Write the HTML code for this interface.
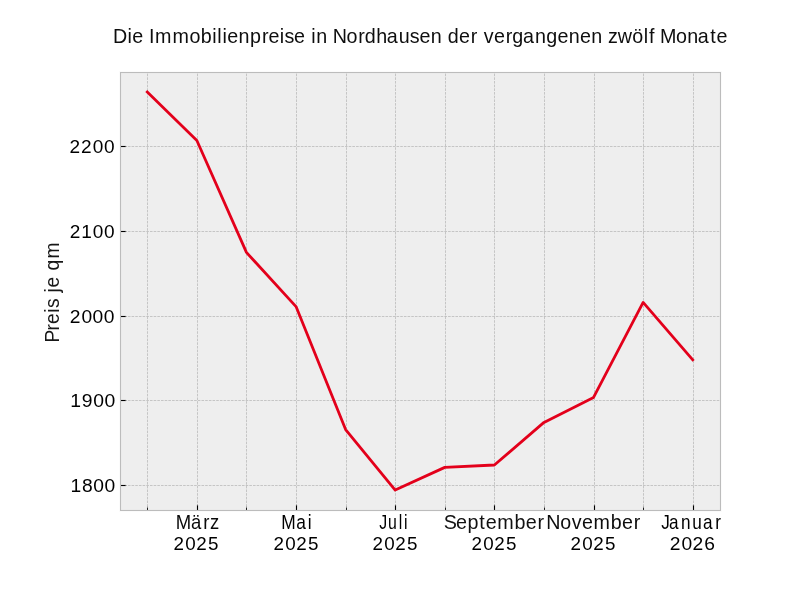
<!DOCTYPE html>
    <html><head><meta charset="utf-8"><style>html,body{margin:0;padding:0;background:#fff;width:800px;height:600px;overflow:hidden}svg{display:block;will-change:transform}text{font-family:"Liberation Sans",sans-serif}</style></head>
    <body><svg width="800" height="600" viewBox="0 0 800 600">
    <rect width="800" height="600" fill="#fff"/>
    <rect x="120" y="72" width="600" height="438" fill="#eeeeee"/>
<path d="M147.5 510V72 M197.5 510V72 M246.5 510V72 M296.5 510V72 M346.5 510V72 M395.5 510V72 M445.5 510V72 M494.5 510V72 M544.5 510V72 M594.5 510V72 M643.5 510V72 M693.5 510V72" stroke="#b2b2b2" stroke-width="0.694" stroke-dasharray="2.57 1.11" stroke-dashoffset="0.45" fill="none"/>
<path d="M120 146.5H720 M120 231.5H720 M120 316.5H720 M120 400.5H720 M120 485.5H720" stroke="#b2b2b2" stroke-width="0.694" stroke-dasharray="2.57 1.11" stroke-dashoffset="-0.55" fill="none"/>
<polyline points="147.273,91.909 196.860,140.495 246.446,252.420 296.033,306.602 345.620,429.550 395.207,490.091 444.793,467.367 494.380,464.993 543.967,422.427 593.554,397.414 643.140,302.362 692.727,359.851" fill="none" stroke="#e3001b" stroke-width="2.78" stroke-linejoin="round" stroke-linecap="square"/>
<g shape-rendering="crispEdges"><rect x="121" y="146" width="4" height="1" fill="#000"/><rect x="125" y="146" width="1" height="1" fill="#000" fill-opacity="0.59"/><rect x="126" y="146" width="1" height="1" fill="#000" fill-opacity="0.13"/><rect x="121" y="145" width="5" height="1" fill="#000" fill-opacity="0.06"/><rect x="121" y="147" width="5" height="1" fill="#000" fill-opacity="0.06"/><rect x="121" y="231" width="4" height="1" fill="#000"/><rect x="125" y="231" width="1" height="1" fill="#000" fill-opacity="0.59"/><rect x="126" y="231" width="1" height="1" fill="#000" fill-opacity="0.13"/><rect x="121" y="230" width="5" height="1" fill="#000" fill-opacity="0.06"/><rect x="121" y="232" width="5" height="1" fill="#000" fill-opacity="0.06"/><rect x="121" y="316" width="4" height="1" fill="#000"/><rect x="125" y="316" width="1" height="1" fill="#000" fill-opacity="0.59"/><rect x="126" y="316" width="1" height="1" fill="#000" fill-opacity="0.13"/><rect x="121" y="315" width="5" height="1" fill="#000" fill-opacity="0.06"/><rect x="121" y="317" width="5" height="1" fill="#000" fill-opacity="0.06"/><rect x="121" y="400" width="4" height="1" fill="#000"/><rect x="125" y="400" width="1" height="1" fill="#000" fill-opacity="0.59"/><rect x="126" y="400" width="1" height="1" fill="#000" fill-opacity="0.13"/><rect x="121" y="399" width="5" height="1" fill="#000" fill-opacity="0.06"/><rect x="121" y="401" width="5" height="1" fill="#000" fill-opacity="0.06"/><rect x="121" y="485" width="4" height="1" fill="#000"/><rect x="125" y="485" width="1" height="1" fill="#000" fill-opacity="0.59"/><rect x="126" y="485" width="1" height="1" fill="#000" fill-opacity="0.13"/><rect x="121" y="484" width="5" height="1" fill="#000" fill-opacity="0.06"/><rect x="121" y="486" width="5" height="1" fill="#000" fill-opacity="0.06"/><rect x="147" y="508" width="1" height="2" fill="#000" fill-opacity="0.85"/><rect x="147" y="507" width="1" height="1" fill="#000" fill-opacity="0.43"/><rect x="147" y="506" width="1" height="1" fill="#000" fill-opacity="0.15"/><rect x="197" y="506" width="1" height="4" fill="#000"/><rect x="197" y="505" width="1" height="1" fill="#000" fill-opacity="0.59"/><rect x="197" y="504" width="1" height="1" fill="#000" fill-opacity="0.13"/><rect x="196" y="505" width="1" height="5" fill="#000" fill-opacity="0.06"/><rect x="198" y="505" width="1" height="5" fill="#000" fill-opacity="0.06"/><rect x="246" y="508" width="1" height="2" fill="#000" fill-opacity="0.85"/><rect x="246" y="507" width="1" height="1" fill="#000" fill-opacity="0.43"/><rect x="246" y="506" width="1" height="1" fill="#000" fill-opacity="0.15"/><rect x="296" y="506" width="1" height="4" fill="#000"/><rect x="296" y="505" width="1" height="1" fill="#000" fill-opacity="0.59"/><rect x="296" y="504" width="1" height="1" fill="#000" fill-opacity="0.13"/><rect x="295" y="505" width="1" height="5" fill="#000" fill-opacity="0.06"/><rect x="297" y="505" width="1" height="5" fill="#000" fill-opacity="0.06"/><rect x="346" y="508" width="1" height="2" fill="#000" fill-opacity="0.85"/><rect x="346" y="507" width="1" height="1" fill="#000" fill-opacity="0.43"/><rect x="346" y="506" width="1" height="1" fill="#000" fill-opacity="0.15"/><rect x="395" y="506" width="1" height="4" fill="#000"/><rect x="395" y="505" width="1" height="1" fill="#000" fill-opacity="0.59"/><rect x="395" y="504" width="1" height="1" fill="#000" fill-opacity="0.13"/><rect x="394" y="505" width="1" height="5" fill="#000" fill-opacity="0.06"/><rect x="396" y="505" width="1" height="5" fill="#000" fill-opacity="0.06"/><rect x="445" y="508" width="1" height="2" fill="#000" fill-opacity="0.85"/><rect x="445" y="507" width="1" height="1" fill="#000" fill-opacity="0.43"/><rect x="445" y="506" width="1" height="1" fill="#000" fill-opacity="0.15"/><rect x="494" y="506" width="1" height="4" fill="#000"/><rect x="494" y="505" width="1" height="1" fill="#000" fill-opacity="0.59"/><rect x="494" y="504" width="1" height="1" fill="#000" fill-opacity="0.13"/><rect x="493" y="505" width="1" height="5" fill="#000" fill-opacity="0.06"/><rect x="495" y="505" width="1" height="5" fill="#000" fill-opacity="0.06"/><rect x="544" y="508" width="1" height="2" fill="#000" fill-opacity="0.85"/><rect x="544" y="507" width="1" height="1" fill="#000" fill-opacity="0.43"/><rect x="544" y="506" width="1" height="1" fill="#000" fill-opacity="0.15"/><rect x="594" y="506" width="1" height="4" fill="#000"/><rect x="594" y="505" width="1" height="1" fill="#000" fill-opacity="0.59"/><rect x="594" y="504" width="1" height="1" fill="#000" fill-opacity="0.13"/><rect x="593" y="505" width="1" height="5" fill="#000" fill-opacity="0.06"/><rect x="595" y="505" width="1" height="5" fill="#000" fill-opacity="0.06"/><rect x="643" y="508" width="1" height="2" fill="#000" fill-opacity="0.85"/><rect x="643" y="507" width="1" height="1" fill="#000" fill-opacity="0.43"/><rect x="643" y="506" width="1" height="1" fill="#000" fill-opacity="0.15"/><rect x="693" y="506" width="1" height="4" fill="#000"/><rect x="693" y="505" width="1" height="1" fill="#000" fill-opacity="0.59"/><rect x="693" y="504" width="1" height="1" fill="#000" fill-opacity="0.13"/><rect x="692" y="505" width="1" height="5" fill="#000" fill-opacity="0.06"/><rect x="694" y="505" width="1" height="5" fill="#000" fill-opacity="0.06"/></g>
<g shape-rendering="crispEdges"><rect x="120" y="72" width="601" height="1" fill="#bcbcbc"/><rect x="120" y="510" width="601" height="1" fill="#bcbcbc"/><rect x="120" y="72" width="1" height="439" fill="#bcbcbc"/><rect x="720" y="72" width="1" height="439" fill="#bcbcbc"/><rect x="121" y="73" width="599" height="1" fill="#bcbcbc" fill-opacity="0.06"/><rect x="121" y="509" width="599" height="1" fill="#bcbcbc" fill-opacity="0.06"/><rect x="121" y="73" width="1" height="437" fill="#bcbcbc" fill-opacity="0.06"/><rect x="719" y="73" width="1" height="437" fill="#bcbcbc" fill-opacity="0.06"/><rect x="119" y="71" width="603" height="1" fill="#bcbcbc" fill-opacity="0.06"/><rect x="119" y="511" width="603" height="1" fill="#bcbcbc" fill-opacity="0.06"/><rect x="119" y="72" width="1" height="439" fill="#bcbcbc" fill-opacity="0.06"/><rect x="721" y="72" width="1" height="439" fill="#bcbcbc" fill-opacity="0.06"/></g>
<g font-family="Liberation Sans, sans-serif" fill="#000"><text transform="translate(0,42.765) scale(1.0373,1.0788)" font-size="19" fill="#0e0e0e" x="109.00 122.84 127.57 138.13 143.65 149.40 166.27 182.58 193.48 204.54 209.47 214.42 219.15 230.04 241.08 252.55 258.79 269.73 274.26 283.50 294.07 299.98 304.87 315.44 320.75 334.17 345.46 351.74 362.80 372.91 384.45 395.13 404.36 415.25 425.82 431.64 442.56 453.91 460.24 466.36 476.30 487.65 493.94 504.14 515.75 526.59 537.52 548.41 559.21 570.10 580.67 586.24 595.62 609.64 620.51 625.78 631.06 636.31 651.70 662.53 672.60 684.67 690.80">Die&#160;Immobilienpreise&#160;in&#160;Nordhausen&#160;der&#160;vergangenen&#160;zwölf&#160;Monate</text><text transform="translate(58.765,0) rotate(-90) scale(1.0107,1.0788)" font-size="19" fill="#171717" x="-338.86 -326.96 -320.51 -309.37 -304.65 -295.15 -289.47 -284.40 -273.83 -267.67 -255.86">Preis&#160;je&#160;qm</text><text transform="translate(0,492.000) scale(1.0140,1.0000)" font-size="19" fill="#000000" x="69.47 80.79 92.00 103.10">1800</text><text transform="translate(0,407.000) scale(1.0195,1.0000)" font-size="19" fill="#000000" x="69.01 80.21 91.55 102.58">1900</text><text transform="translate(0,323.000) scale(1.0130,1.0000)" font-size="19" fill="#000000" x="68.75 80.34 91.44 102.55">2000</text><text transform="translate(0,238.000) scale(1.0023,1.0000)" font-size="19" fill="#000000" x="69.48 81.09 92.54 103.77">2100</text><text transform="translate(0,153.000) scale(1.0041,1.0000)" font-size="19" fill="#000000" x="69.28 80.74 92.43 103.63">2200</text><text transform="translate(0,529.000) scale(0.9740,1.0969)" font-size="19" fill="#0a0a0a" x="180.49 196.02 208.75 215.64">März</text><text transform="translate(0,550.000) scale(0.9897,1.0000)" font-size="19" fill="#000000" x="175.33 187.19 198.32 210.11">2025</text><text transform="translate(0,529.000) scale(0.9116,1.0969)" font-size="19" fill="#000000" x="308.50 324.94 337.72">Mai</text><text transform="translate(0,550.000) scale(0.9897,1.0000)" font-size="19" fill="#000000" x="276.37 288.23 299.36 311.15">2025</text><text transform="translate(0,529.000) scale(0.8332,1.0969)" font-size="19" fill="#000000" x="455.15 465.61 478.63 484.79">Juli</text><text transform="translate(0,550.000) scale(0.9897,1.0000)" font-size="19" fill="#000000" x="376.40 388.26 399.39 411.18">2025</text><text transform="translate(0,529.000) scale(1.0394,1.0969)" font-size="19" fill="#111111" x="427.00 438.77 449.70 461.16 467.27 478.47 495.04 505.87 517.20">September</text><text transform="translate(0,550.000) scale(0.9897,1.0000)" font-size="19" fill="#000000" x="476.43 488.29 499.42 511.21">2025</text><text transform="translate(0,529.000) scale(1.0351,1.0969)" font-size="19" fill="#0d0d0d" x="527.84 541.28 552.26 562.23 573.49 590.12 600.99 612.36">November</text><text transform="translate(0,550.000) scale(0.9897,1.0000)" font-size="19" fill="#000000" x="576.46 588.32 599.45 611.24">2025</text><text transform="translate(0,529.000) scale(0.9022,1.0969)" font-size="19" fill="#000000" x="732.83 741.53 754.83 767.35 779.08 792.66">Januar</text><text transform="translate(0,550.000) scale(1.0127,1.0000)" font-size="19" fill="#000000" x="661.31 672.90 683.78 695.37">2026</text></g>
    </svg></body></html>
